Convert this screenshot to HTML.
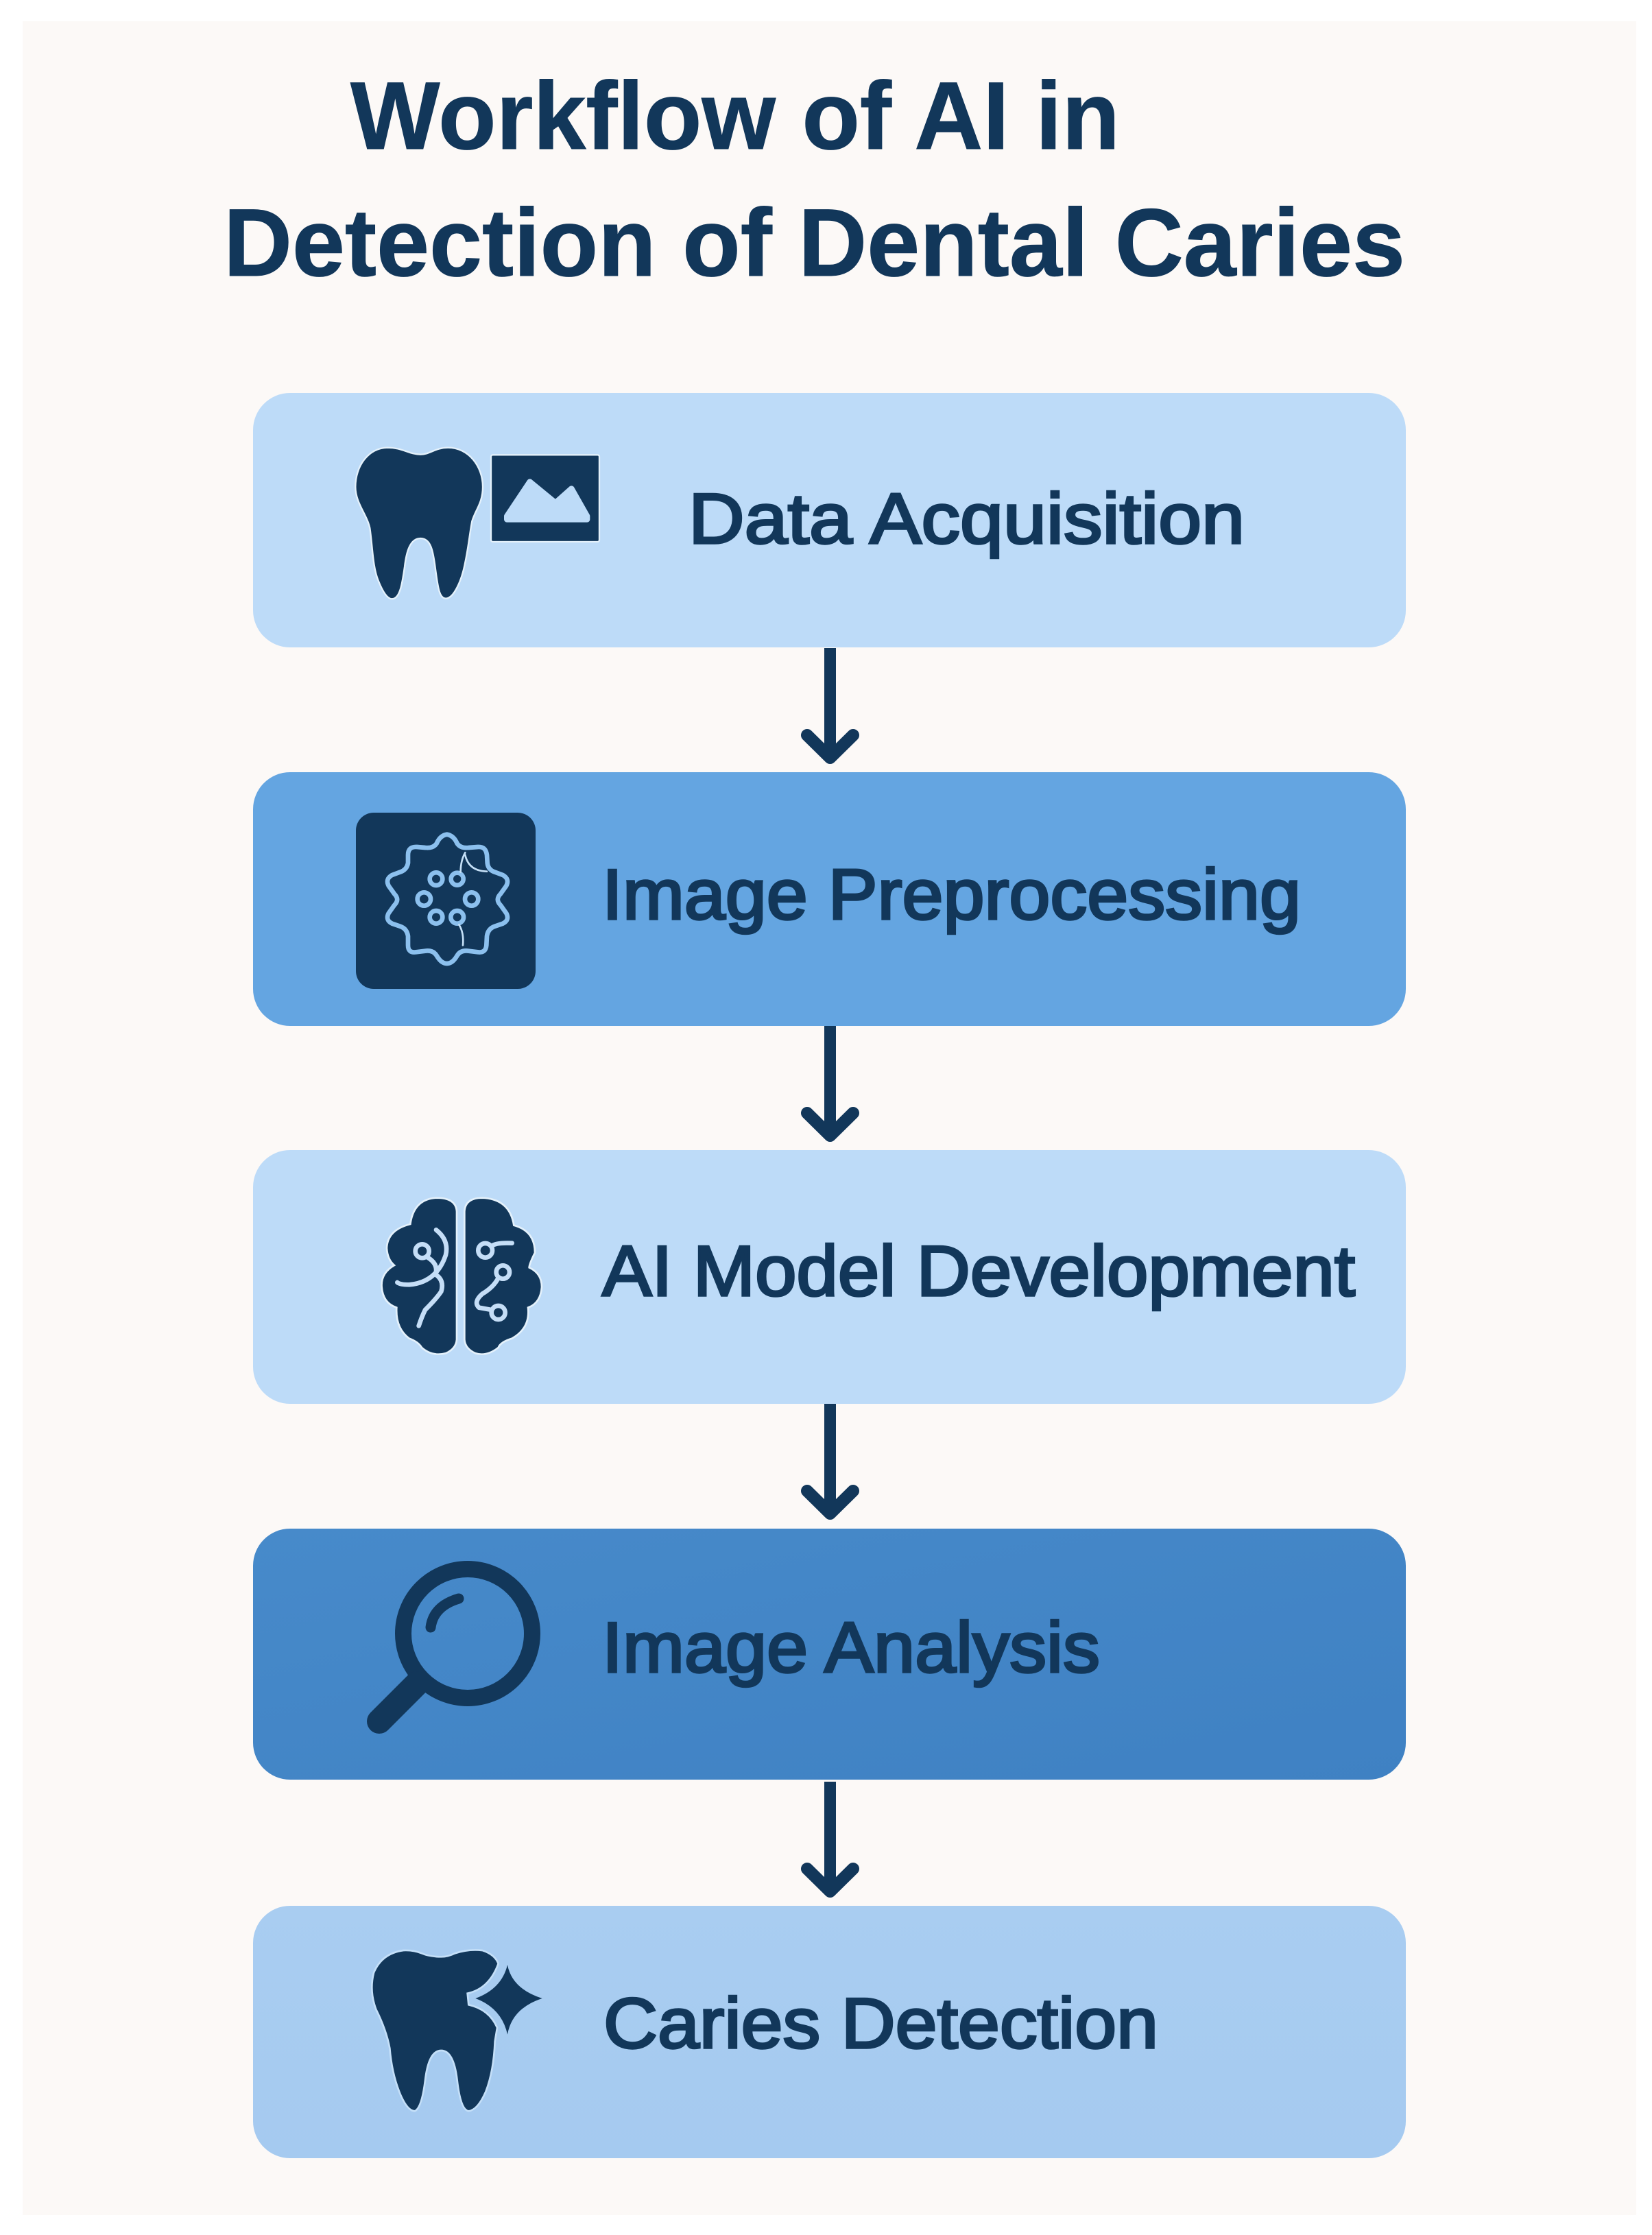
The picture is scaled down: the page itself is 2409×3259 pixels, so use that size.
<!DOCTYPE html>
<html lang="en"><head><meta charset="utf-8"><title>Workflow of AI in Detection of Dental Caries</title>
<style>html,body{margin:0;padding:0;background:#fff}svg{display:block}
text{font-family:"Liberation Sans",Arial,sans-serif;fill:#12375a}
.l{font-size:104px;stroke:#12375a;stroke-width:3.500px;font-weight:400}
.t{font-size:140px;font-weight:700;stroke:#12375a;stroke-width:1px}
.d{fill:#12375a}
.tr{fill:none;stroke-linecap:round;stroke-linejoin:round}
</style></head><body>
<svg xmlns="http://www.w3.org/2000/svg" width="2409" height="3259" viewBox="0 0 2409 3259">
<defs>
<linearGradient id="g4" x1="0" y1="0" x2="1" y2="1"><stop offset="0" stop-color="#478aca"/><stop offset="1" stop-color="#3f81c3"/></linearGradient>
<linearGradient id="g5" x1="0" y1="0" x2="0" y2="1"><stop offset="0" stop-color="#a9cdf1"/><stop offset="1" stop-color="#a5caf0"/></linearGradient>
<g id="arrow"><path d="M1210.500 0V150" fill="none" stroke="#12375a" stroke-width="17"/><path d="M1177 127L1210.500 160L1244 127" fill="none" stroke="#12375a" stroke-width="18" stroke-linecap="round" stroke-linejoin="round"/></g>
</defs>
<rect x="33" y="31" width="2353" height="3199" fill="#fcf9f7"/>
<text class="t" x="511" y="217" textLength="1122" lengthAdjust="spacingAndGlyphs">Workflow of AI in</text>
<text class="t" x="326" y="402" textLength="1723" lengthAdjust="spacingAndGlyphs">Detection of Dental Caries</text>

<rect x="369" y="573" width="1681" height="371" rx="54" fill="#bddbf8"/>
<rect x="369" y="1126" width="1681" height="370" rx="54" fill="#64a5e1"/>
<rect x="369" y="1677" width="1681" height="370" rx="54" fill="#bddbf8"/>
<rect x="369" y="2229" width="1681" height="366" rx="54" fill="url(#g4)"/>
<rect x="369" y="2779" width="1681" height="368" rx="54" fill="url(#g5)"/>

<use href="#arrow" transform="translate(0,945)"/>
<use href="#arrow" transform="translate(0,1496)"/>
<use href="#arrow" transform="translate(0,2047)"/>
<use href="#arrow" transform="translate(0,2598)"/>

<text class="l" x="1004" y="792" textLength="811" lengthAdjust="spacingAndGlyphs">Data Acquisition</text>
<text class="l" x="878" y="1340" textLength="1019" lengthAdjust="spacingAndGlyphs">Image Preprocessing</text>
<text class="l" x="878" y="1889" textLength="1098" lengthAdjust="spacingAndGlyphs">AI Model Development</text>
<text class="l" x="878" y="2438" textLength="726" lengthAdjust="spacingAndGlyphs">Image Analysis</text>
<text class="l" x="880" y="2986" textLength="809" lengthAdjust="spacingAndGlyphs">Caries Detection</text>

<!-- Data acquisition icon -->
<g transform="translate(480,620) scale(.33333)">
<path class="d" stroke="#e4f1fb" stroke-width="7" d="M400,128 C350,128 320,98 255,98 C170,100 115,180 115,270 C115,340 165,390 178,450 C190,530 190,620 215,680 C235,730 255,760 275,760 C310,760 320,690 330,620 C338,550 355,495 400,495 C445,495 455,550 465,630 C475,700 480,758 510,758 C545,758 580,680 595,600 C610,530 615,470 625,420 C640,370 672,340 672,270 C672,180 610,98 520,98 C465,98 440,128 400,128Z"/>
<rect class="d" stroke="#e4f1fb" stroke-width="7" x="708" y="130" width="474" height="380" rx="8"/>
<path fill="#bddbf8" stroke="#bddbf8" stroke-width="26" stroke-linejoin="round" d="M778,398 L878,248 L990,340 L1060,278 L1128,398 L1128,412 L778,412Z"/>
</g>

<!-- Preprocessing icon -->
<rect x="519" y="1185" width="262" height="257" rx="26" fill="#12375a"/>
<g transform="translate(540,1200) scale(.33333)">
<path class="tr" stroke="#8cc0ee" stroke-width="20" d="M335,50 Q365,55 380,90 Q395,112 430,108 L470,105 Q505,102 510,140 L512,175 Q515,205 545,215 L580,228 Q610,245 595,275 L570,310 Q545,335 570,360 L595,395 Q610,425 580,440 L545,452 Q515,462 510,495 L508,535 Q505,570 470,565 L430,560 Q395,555 380,580 Q360,615 335,615 Q310,615 290,580 Q275,555 240,560 L200,565 Q165,570 165,535 L165,495 Q160,462 130,452 L95,440 Q65,425 80,395 L105,360 Q130,335 105,310 L80,275 Q65,245 95,228 L130,215 Q160,205 165,175 L165,140 Q165,102 205,105 L240,108 Q275,112 290,90 Q305,55 335,50Z"/>
<g class="tr" stroke="#8cc0ee" stroke-width="20">
<circle cx="288" cy="245" r="28"/><circle cx="380" cy="245" r="27"/><circle cx="235" cy="333" r="29"/><circle cx="443" cy="333" r="29"/><circle cx="288" cy="412" r="28"/><circle cx="380" cy="412" r="28"/>
</g>
<g class="tr" stroke="#c5e0f7" stroke-width="8"><path d="M395,215 Q395,165 415,130"/><path d="M415,140 Q430,210 510,212"/><path d="M388,445 Q410,480 405,535"/></g>
</g>

<!-- Brain icon -->
<g transform="translate(540,1730) scale(.33333)">
<path class="d" stroke="#e4f1fb" stroke-width="8" d="M412,110 Q415,50 490,50 Q610,55 628,170 Q720,195 720,290 Q695,340 695,355 Q750,380 750,440 Q745,510 690,530 Q700,620 620,665 Q570,680 560,705 Q510,745 460,730 Q415,710 412,670Z"/>
<path class="d" stroke="#e4f1fb" stroke-width="8" d="M378,110 Q375,50 290,50 Q190,55 175,165 Q75,190 72,270 Q75,320 105,345 Q45,380 50,440 Q55,510 115,530 Q110,620 170,665 Q210,680 225,705 Q270,745 330,730 Q375,710 378,670Z"/>
<g class="tr" stroke="#c5def7" stroke-width="20">
<path d="M288,190 Q345,235 330,300 Q290,420 170,430 Q130,430 118,420"/>
<circle cx="227" cy="283" r="30"/>
<path d="M250,310 Q300,340 285,385 Q325,410 310,460 Q290,490 240,540 Q225,570 212,610"/>
<circle cx="503" cy="280" r="31"/>
<path d="M530,262 Q545,245 620,248"/>
<circle cx="580" cy="375" r="29"/>
<path d="M560,400 Q540,440 490,470 Q450,505 475,530 L530,540"/>
<circle cx="560" cy="552" r="30"/>
</g>
</g>

<!-- Magnifier -->
<g fill="none" stroke="#12375a" stroke-linecap="round">
<circle cx="682" cy="2382" r="94" stroke-width="24"/>
<path d="M553,2510L608,2455" stroke-width="36"/>
<path d="M628,2373Q632,2342 669,2331" stroke-width="15"/>
</g>

<!-- Caries tooth -->
<g transform="translate(520,2820) scale(.33333)">
<path class="d" stroke="#c4dff8" stroke-width="8" d="M370,100 Q320,100 285,85 Q250,70 205,72 Q110,85 75,170 Q55,250 85,330 Q130,420 145,500 Q155,620 195,710 Q225,775 255,775 Q285,760 300,640 Q315,510 370,510 Q425,510 440,640 Q455,770 490,775 Q530,770 565,690 Q600,600 605,470 L615,410 Q580,330 490,310 L485,260 Q580,240 620,130 Q605,90 550,72 Q490,65 430,85 Q400,100 370,100Z"/>
<path class="d" d="M660,135 Q680,240 812,282 Q680,325 660,440 Q635,325 520,282 Q635,240 660,135Z"/>
</g>
</svg>
</body></html>
